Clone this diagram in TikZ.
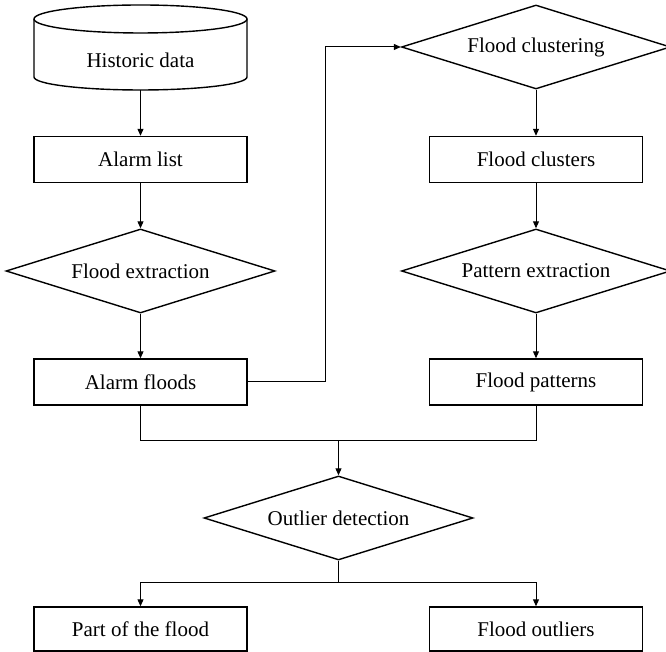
\documentclass[tikz,border=0pt]{standalone}
\usepackage{fontspec}
\setmainfont{Liberation Serif}
\usetikzlibrary{shapes.geometric,arrows.meta}
\begin{document}
\begin{tikzpicture}[x=1pt,y=1pt,
  font=\fontsize{21}{25}\selectfont,
  box/.style={draw, line width=1.4pt, rectangle, minimum width=213pt, minimum height=46pt, inner sep=0pt},
  dia/.style={draw, line width=1.4pt, diamond, aspect=3.2, minimum width=269pt, minimum height=84pt, inner sep=0pt},
  conn/.style={line width=1pt},
  arr/.style={conn, -{Triangle[length=7pt,width=6pt]}}]
\useasboundingbox (0,0) rectangle (666,652);
% cylinder
\draw[line width=1.4pt] (34,633) -- (34,575) arc (180:360:106.5 and 13) -- (247,633);
\draw[line width=1.4pt, fill=white] (140.5,633) ellipse (106.5 and 14);
\node (hd) at (140.5,592) {Historic data};
\coordinate (hdb) at (140.5,562);
\node[box] (al) at (140.5,492.5) {Alarm list};
\node[dia] (fe) at (140.5,381) {Flood extraction};
\node[box] (af) at (140.5,270) {Alarm floods};
\node[dia] (fcl) at (536,605) {Flood clustering};
\node[box] (fcs) at (536,492.5) {Flood clusters};
\node[dia] (pe) at (536,381) {Pattern extraction};
\node[box] (fp) at (536,270) {Flood patterns};
\node[dia] (od) at (338.5,134) {Outlier detection};
\node[box, minimum height=44pt] (pf) at (140.5,23) {Part of the flood};
\node[box, minimum height=44pt] (fo) at (536,23) {Flood outliers};
\coordinate (j1) at (338.5,211);
\coordinate (j2) at (338.5,69);
\coordinate (bend) at (325,270);
% connectors
\draw[arr] (hdb) -- (al.north);
\draw[arr] (al.south) -- (fe.north);
\draw[arr] (fe.south) -- (af.north);
\draw[arr] (af.east) -- (bend) |- (fcl.west);
\draw[arr] (fcl.south) -- (fcs.north);
\draw[arr] (fcs.south) -- (pe.north);
\draw[arr] (pe.south) -- (fp.north);
\draw[conn] (af.south) -- (af.south |- j1) -- (fp.south |- j1) -- (fp.south);
\draw[arr] (j1) -- (od.north);
\draw[conn] (od.south) -- (j2);
\draw[arr] (j2) -| (pf.north);
\draw[arr] (j2) -| (fo.north);
\end{tikzpicture}
\end{document}
